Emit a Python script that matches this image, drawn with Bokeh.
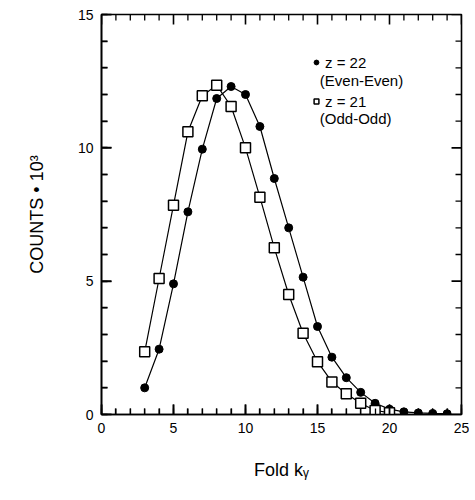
from bokeh.plotting import figure
from bokeh.models import Range1d, SingleIntervalTicker, Legend, LegendItem, Label
from bokeh.embed import file_html
from bokeh.resources import INLINE

# Data (counts in units of 10^3)
fold_even = [3, 4, 5, 6, 7, 8, 9, 10, 11, 12, 13, 14, 15, 16, 17, 18, 19, 20, 21, 22, 23, 24]
counts_even = [1.0, 2.45, 4.9, 7.6, 9.95, 11.85, 12.3, 12.0, 10.8, 8.85, 7.0, 5.15, 3.3, 2.15,
               1.38, 0.83, 0.42, 0.2, 0.1, 0.06, 0.04, 0.03]
fold_odd = [3, 4, 5, 6, 7, 8, 9, 10, 11, 12, 13, 14, 15, 16, 17, 18, 19, 20]
counts_odd = [2.35, 5.1, 7.85, 10.6, 11.95, 12.35, 11.55, 10.0, 8.15, 6.25, 4.5, 3.05, 1.98,
              1.22, 0.78, 0.42, 0.15, 0.07]
label_even = "z = 22"
label_even2 = "(Even-Even)"
label_odd = "z = 21"
label_odd2 = "(Odd-Odd)"

# tick values
x_major = [0, 5, 10, 15, 20, 25]
x_minor = [v for v in range(0, 26) if v % 5]
y_major = [0, 5, 10, 15]
y_minor = [v for v in range(0, 16) if v % 5]
X0, X1, Y0, Y1 = 0, 25, 0, 15

FONT = "Liberation Sans"
FRAME_W, FRAME_H = 361, 399
MAJ_PX, MIN_PX = 10, 6

p = figure(width=469, height=484, output_backend="svg", toolbar_location=None,
           x_range=Range1d(X0, X1), y_range=Range1d(Y0, Y1),
           min_border_left=101, min_border_right=8, min_border_top=14, min_border_bottom=70)
p.background_fill_color = None
p.border_fill_color = None
p.outline_line_color = "black"
p.outline_line_width = 1.6
p.grid.visible = False

p.xaxis.ticker = SingleIntervalTicker(interval=5, num_minor_ticks=5)
p.yaxis.ticker = SingleIntervalTicker(interval=5, num_minor_ticks=5)
for ax in (p.xaxis[0], p.yaxis[0]):
    ax.axis_line_color = "black"
    ax.axis_line_width = 1.6
    ax.major_tick_in = MAJ_PX
    ax.major_tick_out = 0
    ax.minor_tick_in = MIN_PX
    ax.minor_tick_out = 0
    ax.major_tick_line_color = "black"
    ax.minor_tick_line_color = "black"
    ax.major_tick_line_width = 1.6
    ax.minor_tick_line_width = 1.3
    ax.major_label_text_font = FONT
    ax.major_label_text_font_size = "14px"
    ax.major_label_text_color = "black"
    ax.major_label_standoff = 8
    ax.axis_label_text_font = FONT
    ax.axis_label_text_font_size = "18px"
    ax.axis_label_text_font_style = "normal"
    ax.axis_label_text_color = "black"
p.xaxis.axis_label = "Fold k\u1d67"
p.yaxis.axis_label = "COUNTS \u2022 10\u00b3"
p.xaxis.axis_label_standoff = 24
p.yaxis.axis_label_standoff = 28

# inward ticks on all four sides, drawn as short segments
dx_per_px = (X1 - X0) / FRAME_W
dy_per_px = (Y1 - Y0) / FRAME_H

def vticks(vals, length_px):
    ly = length_px * dy_per_px
    x = list(vals) + list(vals)
    y0 = [Y0] * len(vals) + [Y1] * len(vals)
    y1 = [Y0 + ly] * len(vals) + [Y1 - ly] * len(vals)
    return x, y0, y1

def hticks(vals, length_px):
    lx = length_px * dx_per_px
    y = list(vals) + list(vals)
    x0 = [X0] * len(vals) + [X1] * len(vals)
    x1 = [X0 + lx] * len(vals) + [X1 - lx] * len(vals)
    return y, x0, x1

for vals, L, w in ((x_major, MAJ_PX, 1.6), (x_minor, MIN_PX, 1.3)):
    x, y0, y1 = vticks(vals, L)
    p.segment(x0=x, y0=y0, x1=x, y1=y1, line_color="black", line_width=w)
for vals, L, w in ((y_major, MAJ_PX, 1.6), (y_minor, MIN_PX, 1.3)):
    y, x0, x1 = hticks(vals, L)
    p.segment(x0=x0, y0=y, x1=x1, y1=y, line_color="black", line_width=w)

l_even = p.line(fold_even, counts_even, line_color="black", line_width=1.2)
l_odd = p.line(fold_odd, counts_odd, line_color="black", line_width=1.2)
s_even = p.scatter(fold_even, counts_even, marker="circle", size=8,
                   fill_color="black", line_color="black")
s_odd = p.scatter(fold_odd, counts_odd, marker="square", size=10,
                  fill_color="white", line_color="black", line_width=1.5)

legend = Legend(items=[LegendItem(label=label_even, renderers=[s_even]),
                       LegendItem(label=label_odd, renderers=[s_odd])],
                location=(209, 303))
legend.background_fill_alpha = 0
legend.border_line_alpha = 0
legend.padding = 0
legend.margin = 0
legend.spacing = 19
legend.glyph_width = 12
legend.glyph_height = 20
legend.label_height = 20
legend.label_standoff = 3
legend.label_text_font = FONT
legend.label_text_font_size = "15px"
legend.label_text_color = "black"
p.add_layout(legend, "center")

for txt, yy in ((label_even2, 12.52), (label_odd2, 11.09)):
    p.add_layout(Label(x=15.16, y=yy, text=txt, text_font=FONT, text_font_size="15px",
                       text_baseline="middle", text_color="black"))

open("out.html", "w").write(file_html(p, INLINE))
